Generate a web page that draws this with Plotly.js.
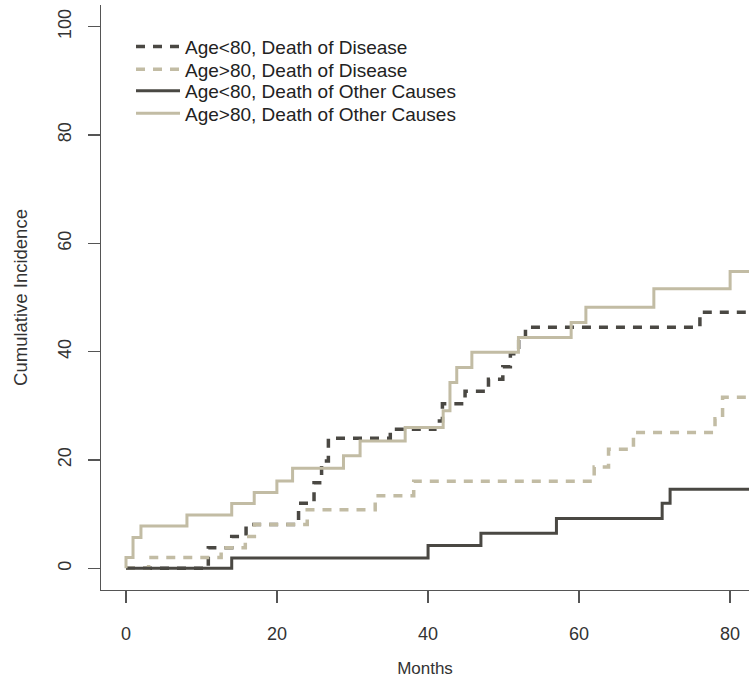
<!DOCTYPE html>
<html>
<head>
<meta charset="utf-8">
<script src="https://cdn.plot.ly/plotly-3.0.1.min.js"></script>
<style>
  html, body { margin: 0; padding: 0; background: #ffffff; }
  #chart { width: 749px; height: 685px; }
</style>
</head>
<body>
<div id="chart"></div>
<script>
// Series names
const seriesNames = [
  "Age<80, Death of Disease",
  "Age>80, Death of Disease",
  "Age<80, Death of Other Causes",
  "Age>80, Death of Other Causes"
];

// Age<80, Death of Disease (step function: months, cumulative incidence %)
const young_disease_months = [0, 10.9, 14.0, 15.9, 22.85, 24.9, 25.9, 26.8, 35.0, 40.9, 41.9, 44.9, 48.0, 49.9, 50.9, 52.0, 52.9, 76.0, 83];
const young_disease_ci     = [0, 3.8, 5.9, 8.1, 12.0, 15.8, 19.8, 24.0, 25.7, 27.2, 30.4, 32.7, 34.9, 37.2, 39.6, 42.3, 44.5, 47.3, 47.3];

// Age>80, Death of Disease
const old_disease_months = [0, 3.0, 12.6, 15.8, 17.0, 24.0, 33.0, 38.1, 62.0, 63.9, 67.2, 78.0, 79.0, 83];
const old_disease_ci     = [0, 1.98, 3.8, 5.9, 8.1, 10.8, 13.4, 16.1, 18.7, 22.0, 25.1, 27.6, 31.6, 31.6];

// Age<80, Death of Other Causes
const young_other_months = [0, 14.0, 40.0, 47.0, 57.0, 71.0, 72.05, 83];
const young_other_ci     = [0, 1.9, 4.2, 6.5, 9.2, 12.0, 14.6, 14.6];

// Age>80, Death of Other Causes
const old_other_months = [0, 0, 0.93, 1.98, 8.07, 14.0, 16.98, 19.98, 22.06, 28.8, 31.0, 36.97, 42.0, 42.9, 43.8, 45.8, 51.97, 58.95, 60.9, 69.9, 80.0, 83];
const old_other_ci     = [0, 1.98, 5.67, 7.82, 9.86, 11.95, 13.99, 16.14, 18.5, 20.8, 23.5, 26.0, 29.1, 34.3, 37.1, 39.9, 42.6, 45.4, 48.2, 51.6, 54.8, 54.8];

// Axis ticks
const xTicks = [0, 20, 40, 60, 80];
const yTicks = [0, 20, 40, 60, 80, 100];

const DARK = "#4a4843";
const LIGHT = "#c2bca4";
const FONT = "Liberation Sans, Arial, Helvetica, sans-serif";

const legendIds = ["legend", "legend2", "legend3", "legend4"];
const legendY = [0.9287, 0.8901, 0.8530, 0.8149];

const traces = [
  { x: young_disease_months, y: young_disease_ci, name: seriesNames[0], mode: "lines", legend: legendIds[0],
    line: { shape: "hv", color: DARK, width: 3.5, dash: "9px,8px" } },
  { x: old_disease_months, y: old_disease_ci, name: seriesNames[1], mode: "lines", legend: legendIds[1],
    line: { shape: "hv", color: LIGHT, width: 3.5, dash: "9px,8px" } },
  { x: young_other_months, y: young_other_ci, name: seriesNames[2], mode: "lines", legend: legendIds[2],
    line: { shape: "hv", color: DARK, width: 3 } },
  { x: old_other_months, y: old_other_ci, name: seriesNames[3], mode: "lines", legend: legendIds[3],
    line: { shape: "hv", color: LIGHT, width: 3 } }
];

const layout = {
  width: 749,
  height: 685,
  margin: { l: 101, r: 0, t: 5, b: 95, pad: 0 },
  paper_bgcolor: "#ffffff",
  plot_bgcolor: "#ffffff",
  font: { family: FONT, color: "#333333" },
  showlegend: true,
  xaxis: {
    range: [-3.31, 82.5],
    tickmode: "array", tickvals: xTicks, ticktext: xTicks.map(String),
    ticks: "outside", ticklen: 12, tickwidth: 1.3, tickcolor: "#555555",
    showline: true, linecolor: "#555555", linewidth: 1.3,
    showgrid: false, zeroline: false, automargin: false,
    tickfont: { family: FONT, size: 18, color: "#333333" },
    ticklabelstandoff: 15,
    title: { text: "Months", font: { family: FONT, size: 17, color: "#333333" }, standoff: 19 }
  },
  yaxis: {
    range: [-4, 104],
    tickmode: "array", tickvals: yTicks, ticktext: yTicks.map(String),
    tickangle: -90,
    ticks: "outside", ticklen: 12, tickwidth: 1.3, tickcolor: "#555555",
    showline: true, linecolor: "#555555", linewidth: 1.3,
    showgrid: false, zeroline: false, automargin: false,
    tickfont: { family: FONT, size: 18, color: "#333333" },
    ticklabelstandoff: 10,
    title: { text: "Cumulative Incidence", font: { family: FONT, size: 18.5, color: "#333333" }, standoff: 22 }
  }
};

legendIds.forEach((id, i) => {
  layout[id] = {
    x: 0.0463, y: legendY[i], xanchor: "left", yanchor: "middle",
    bgcolor: "rgba(0,0,0,0)", borderwidth: 0,
    font: { family: FONT, size: 19, color: "#222222" },
    itemwidth: 44
  };
});

Plotly.newPlot("chart", traces, layout, { displayModeBar: false, staticPlot: true });
</script>
</body>
</html>
